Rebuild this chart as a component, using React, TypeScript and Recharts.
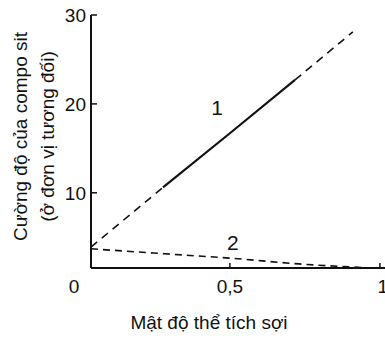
import React from 'react';
import { LineChart, Line, XAxis, YAxis, ReferenceDot, Label } from 'recharts';

// curve 1: dashed start, solid middle, dashed end
const curve1Start = [
  { x: 0.037, y: 3.9 },
  { x: 0.277, y: 10.6 },
];
const curve1Solid = [
  { x: 0.277, y: 10.6 },
  { x: 0.5, y: 16.7 },
  { x: 0.717, y: 22.7 },
];
const curve1End = [
  { x: 0.717, y: 22.7 },
  { x: 0.91, y: 28.1 },
];
// curve 2: dashed all the way
const curve2 = [
  { x: 0.037, y: 3.7 },
  { x: 0.3, y: 3.1 },
  { x: 0.5, y: 2.65 },
  { x: 0.73, y: 2.0 },
  { x: 1.0, y: 1.5 },
];

const xTicks = [0.037, 0.5, 1];
const xTickLabels = ['0', '0,5', '1'];
const yTicks = [10, 20, 30];
const curveNames = [
  { name: '1', x: 0.457, y: 19.6 },
  { name: '2', x: 0.51, y: 4.4 },
];
const yTitleLines = ['Cường độ của compo sit', '(ở đơn vị tương đối)'];
const xTitle = 'Mật độ thể tích sợi';

const FONT = "'Liberation Sans', Arial, sans-serif";
const INK = '#111';

const XTick = (props: any) => {
  const { x, y, payload } = props;
  const i = xTicks.indexOf(payload.value);
  const dx = i === 0 ? -17 : i === 2 ? 3 : 0;
  return (
    <text x={x + dx} y={y} dy="0.71em" textAnchor="middle" fontFamily={FONT} fontSize={19} fill={INK}>
      {xTickLabels[i]}
    </text>
  );
};

const YTitle = (props: any) => {
  const { viewBox } = props;
  const cy = viewBox.y + viewBox.height / 2 - 5;
  const x1 = viewBox.x - 11;
  const x2 = viewBox.x + 16;
  return (
    <g fontFamily={FONT} fontSize={19} fill={INK}>
      <text x={x1} y={cy} transform={`rotate(-90 ${x1} ${cy})`} textAnchor="middle" dominantBaseline="central">
        {yTitleLines[0]}
      </text>
      <text x={x2} y={cy} transform={`rotate(-90 ${x2} ${cy})`} textAnchor="middle" dominantBaseline="central">
        {yTitleLines[1]}
      </text>
    </g>
  );
};

const XTitle = (props: any) => {
  const { viewBox } = props;
  return (
    <text
      x={viewBox.x + viewBox.width / 2 - 29}
      y={viewBox.y + 54}
      textAnchor="middle"
      dominantBaseline="central"
      fontFamily={FONT}
      fontSize={19}
      fill={INK}
    >
      {xTitle}
    </text>
  );
};

export default function App() {
  return (
    <div style={{ position: 'absolute', left: 0, top: 0, background: '#fff' }}>
      <LineChart width={385} height={339} margin={{ top: 15, right: 0, bottom: 41, left: 31 }}>
        <XAxis
          type="number"
          dataKey="x"
          domain={[0.037, 1.017]}
          ticks={xTicks}
          tick={<XTick />}
          tickSize={-5}
          tickMargin={17}
          height={30}
          allowDataOverflow
          axisLine={{ stroke: INK, strokeWidth: 2 }}
          tickLine={{ stroke: INK, strokeWidth: 1.5 }}
        >
          <Label content={<XTitle />} />
        </XAxis>
        <YAxis
          type="number"
          domain={[1.54, 30]}
          ticks={yTicks}
          width={60}
          tickSize={-6}
          tickMargin={11}
          allowDataOverflow
          axisLine={{ stroke: INK, strokeWidth: 2 }}
          tickLine={{ stroke: INK, strokeWidth: 1.5 }}
          tick={{ fill: INK, fontFamily: FONT, fontSize: 19 }}
        >
          <Label content={<YTitle />} />
        </YAxis>
        <Line data={curve1Start} dataKey="y" stroke={INK} strokeWidth={1.6} strokeDasharray="8 6" dot={false} isAnimationActive={false} />
        <Line data={curve1Solid} dataKey="y" stroke={INK} strokeWidth={2.2} dot={false} isAnimationActive={false} />
        <Line data={curve1End} dataKey="y" stroke={INK} strokeWidth={1.6} strokeDasharray="8 6" dot={false} isAnimationActive={false} />
        <Line data={curve2} type="monotone" dataKey="y" stroke={INK} strokeWidth={1.6} strokeDasharray="7 5" dot={false} isAnimationActive={false} />
        {curveNames.map((c) => (
          <ReferenceDot
            key={c.name}
            x={c.x}
            y={c.y}
            r={0}
            stroke="none"
            label={{ value: c.name, position: 'center', fontFamily: FONT, fontSize: 21, fill: INK }}
          />
        ))}
      </LineChart>
    </div>
  );
}
